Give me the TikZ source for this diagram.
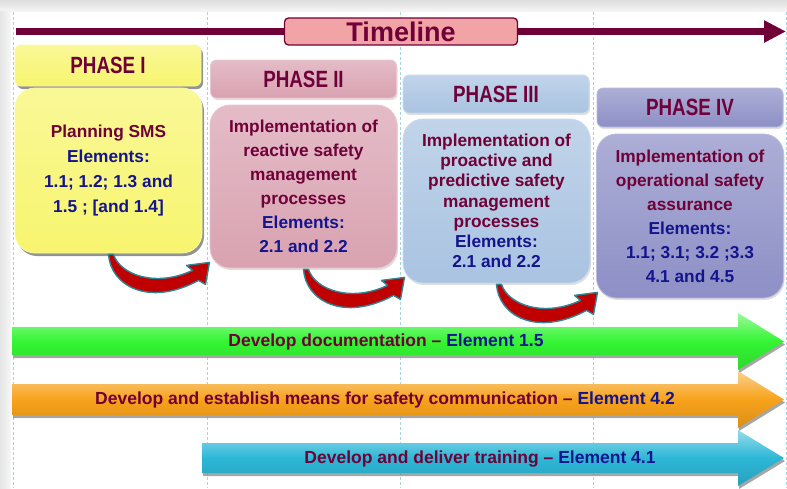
\documentclass[tikz,border=0pt]{standalone}
\usepackage{fontspec}
\setmainfont{Liberation Sans}
\newfontfamily\narrowfont{Liberation Sans}[FakeStretch=0.8]
\usetikzlibrary{arrows.meta,shadows}

\definecolor{wine}{HTML}{700038}
\definecolor{navy}{HTML}{14148F}
\definecolor{phaseone}{HTML}{F7F56E}
\definecolor{phasetwo}{HTML}{D9A2B1}
\definecolor{phasethree}{HTML}{A9C3E1}
\definecolor{phasefour}{HTML}{8D8FC6}
\definecolor{tlpink}{HTML}{F2A3A5}
\definecolor{guide}{HTML}{A6D6DC}
\definecolor{swred}{HTML}{C00000}
\definecolor{swteal}{HTML}{2F8596}
\definecolor{docgreen}{HTML}{33F533}
\definecolor{comorange}{HTML}{F7A21B}
\definecolor{traincyan}{HTML}{2DB7D6}

\tikzset{
	phasehead/.style={rounded corners=6pt, minimum width=186pt, inner sep=0pt,
		text=wine, font=\narrowfont\bfseries\fontsize{23.5}{26}\selectfont},
	phasebody/.style={rounded corners=20pt, minimum width=187pt, minimum height=164pt,
		inner sep=0pt, align=center, text=wine, font=\bfseries\fontsize{17.3}{24}\selectfont},
	boxfill/.style={top color=#1!72!white, bottom color=#1, draw=#1!60!white, line width=0.8pt},
	softshadow/.style={drop shadow={shadow xshift=1pt, shadow yshift=-2pt, opacity=0.25}},
	hardshadow/.style={drop shadow={shadow xshift=2pt, shadow yshift=-3pt, opacity=0.85}},
	band/.style={top color=#1!50!white, bottom color=#1!88!black, middle color=#1,
		drop shadow={shadow xshift=1pt, shadow yshift=-3pt, opacity=0.7}},
	bandtext/.style={text=wine, font=\bfseries\fontsize{17.5}{20}\selectfont, inner sep=0pt},
	swoosh/.style={fill=swred, draw=swteal, line width=1.4pt, line join=round},
}

\begin{document}
\begin{tikzpicture}[x=1pt,y=-1pt]
	\useasboundingbox (0,0) rectangle (787,488);

	% Frame and guide lines
	\shade[top color=black!13, bottom color=black!4] (0,0) rectangle (787,11);
	\shade[left color=black!10, right color=black!3] (0,11) rectangle (11,488);
	\foreach \x in {13,207,400,593,786}
		\draw[guide, dashed, dash pattern=on 3pt off 2pt, line width=0.7pt] (\x,12) -- (\x,488);

	% Timeline
	\coordinate (tlstart) at (16,31.5);
	\coordinate (tlend) at (786,31.5);
	\draw[wine, line width=7pt, -{Triangle[length=22pt,width=21pt]}] (tlstart) -- (tlend);
	\node[fill=tlpink, draw=wine, line width=1.3pt, rounded corners=4pt, minimum width=233pt,
		minimum height=27pt, inner sep=0pt, text=wine, font=\bfseries\fontsize{27}{30}\selectfont]
		(timeline) at (401,31.5) {Timeline};

	% Phase headers
	\node[phasehead, boxfill=phaseone, hardshadow, minimum height=41pt] (head1) at (108,65.5) {PHASE I};
	\node[phasehead, boxfill=phasetwo, softshadow, minimum height=38pt] (head2) at (303.5,79) {PHASE II};
	\node[phasehead, boxfill=phasethree, softshadow, minimum height=38pt] (head3) at (496,94) {PHASE III};
	\node[phasehead, boxfill=phasefour, softshadow, minimum height=39pt] (head4) at (690,107.5) {PHASE IV};

	% Phase contents
	\node[phasebody, boxfill=phaseone, hardshadow, minimum height=165pt,
		font=\bfseries\fontsize{17.3}{25}\selectfont] (body1) at (108.5,170.5)
		{Planning SMS\\ \textcolor{navy}{Elements:}\\ \textcolor{navy}{1.1; 1.2; 1.3 and}\\
		\textcolor{navy}{1.5 ; [and 1.4]}};
	\node[phasebody, boxfill=phasetwo, softshadow, minimum height=163pt] (body2) at (303.5,186.5)
		{Implementation of\\ reactive safety\\ management\\ processes\\
		\textcolor{navy}{Elements:}\\ \textcolor{navy}{2.1 and 2.2}};
	\node[phasebody, boxfill=phasethree, softshadow,
		font=\bfseries\fontsize{17.3}{20.2}\selectfont] (body3) at (496.5,201)
		{Implementation of\\ proactive and\\ predictive safety\\ management\\ processes\\
		\textcolor{navy}{Elements:}\\ \textcolor{navy}{2.1 and 2.2}};
	\node[phasebody, boxfill=phasefour, softshadow] (body4) at (690,216)
		{Implementation of\\ operational safety\\ assurance\\ \textcolor{navy}{Elements:}\\
		\textcolor{navy}{1.1; 3.1; 3.2 ;3.3}\\ \textcolor{navy}{4.1 and 4.5}};

	% Curved arrows between phases
	\foreach \i in {1,2,3}
		\filldraw[swoosh, shift={(body\i.south)}] (0,1) .. controls (2,32) and (40,54) .. (90,27)
			-- (97,31) -- (101,9) -- (78,12) -- (84,17) .. controls (48,34) and (12,22) .. (5,1) -- cycle;

	% Running activities
	\shade[band=docgreen]
		(12,327) -- (738,327) -- (738,313) -- (784,341.5) -- (738,370) -- (738,355) -- (12,355) -- cycle;
	\shade[band=comorange]
		(12,384) -- (738,384) -- (738,371) -- (784,399.5) -- (738,428) -- (738,415) -- (12,415) -- cycle;
	\shade[band=traincyan]
		(202,443) -- (738,443) -- (738,430) -- (784,458) -- (738,486) -- (738,473) -- (202,473) -- cycle;

	\node[bandtext] (docs) at (386,342) {Develop documentation – \textcolor{navy}{Element 1.5}};
	\node[bandtext] (comms) at (385,400) {Develop and establish means for safety communication – \textcolor{navy}{Element 4.2}};
	\node[bandtext] (train) at (480,459) {Develop and deliver training – \textcolor{navy}{Element 4.1}};

\end{tikzpicture}
\end{document}
